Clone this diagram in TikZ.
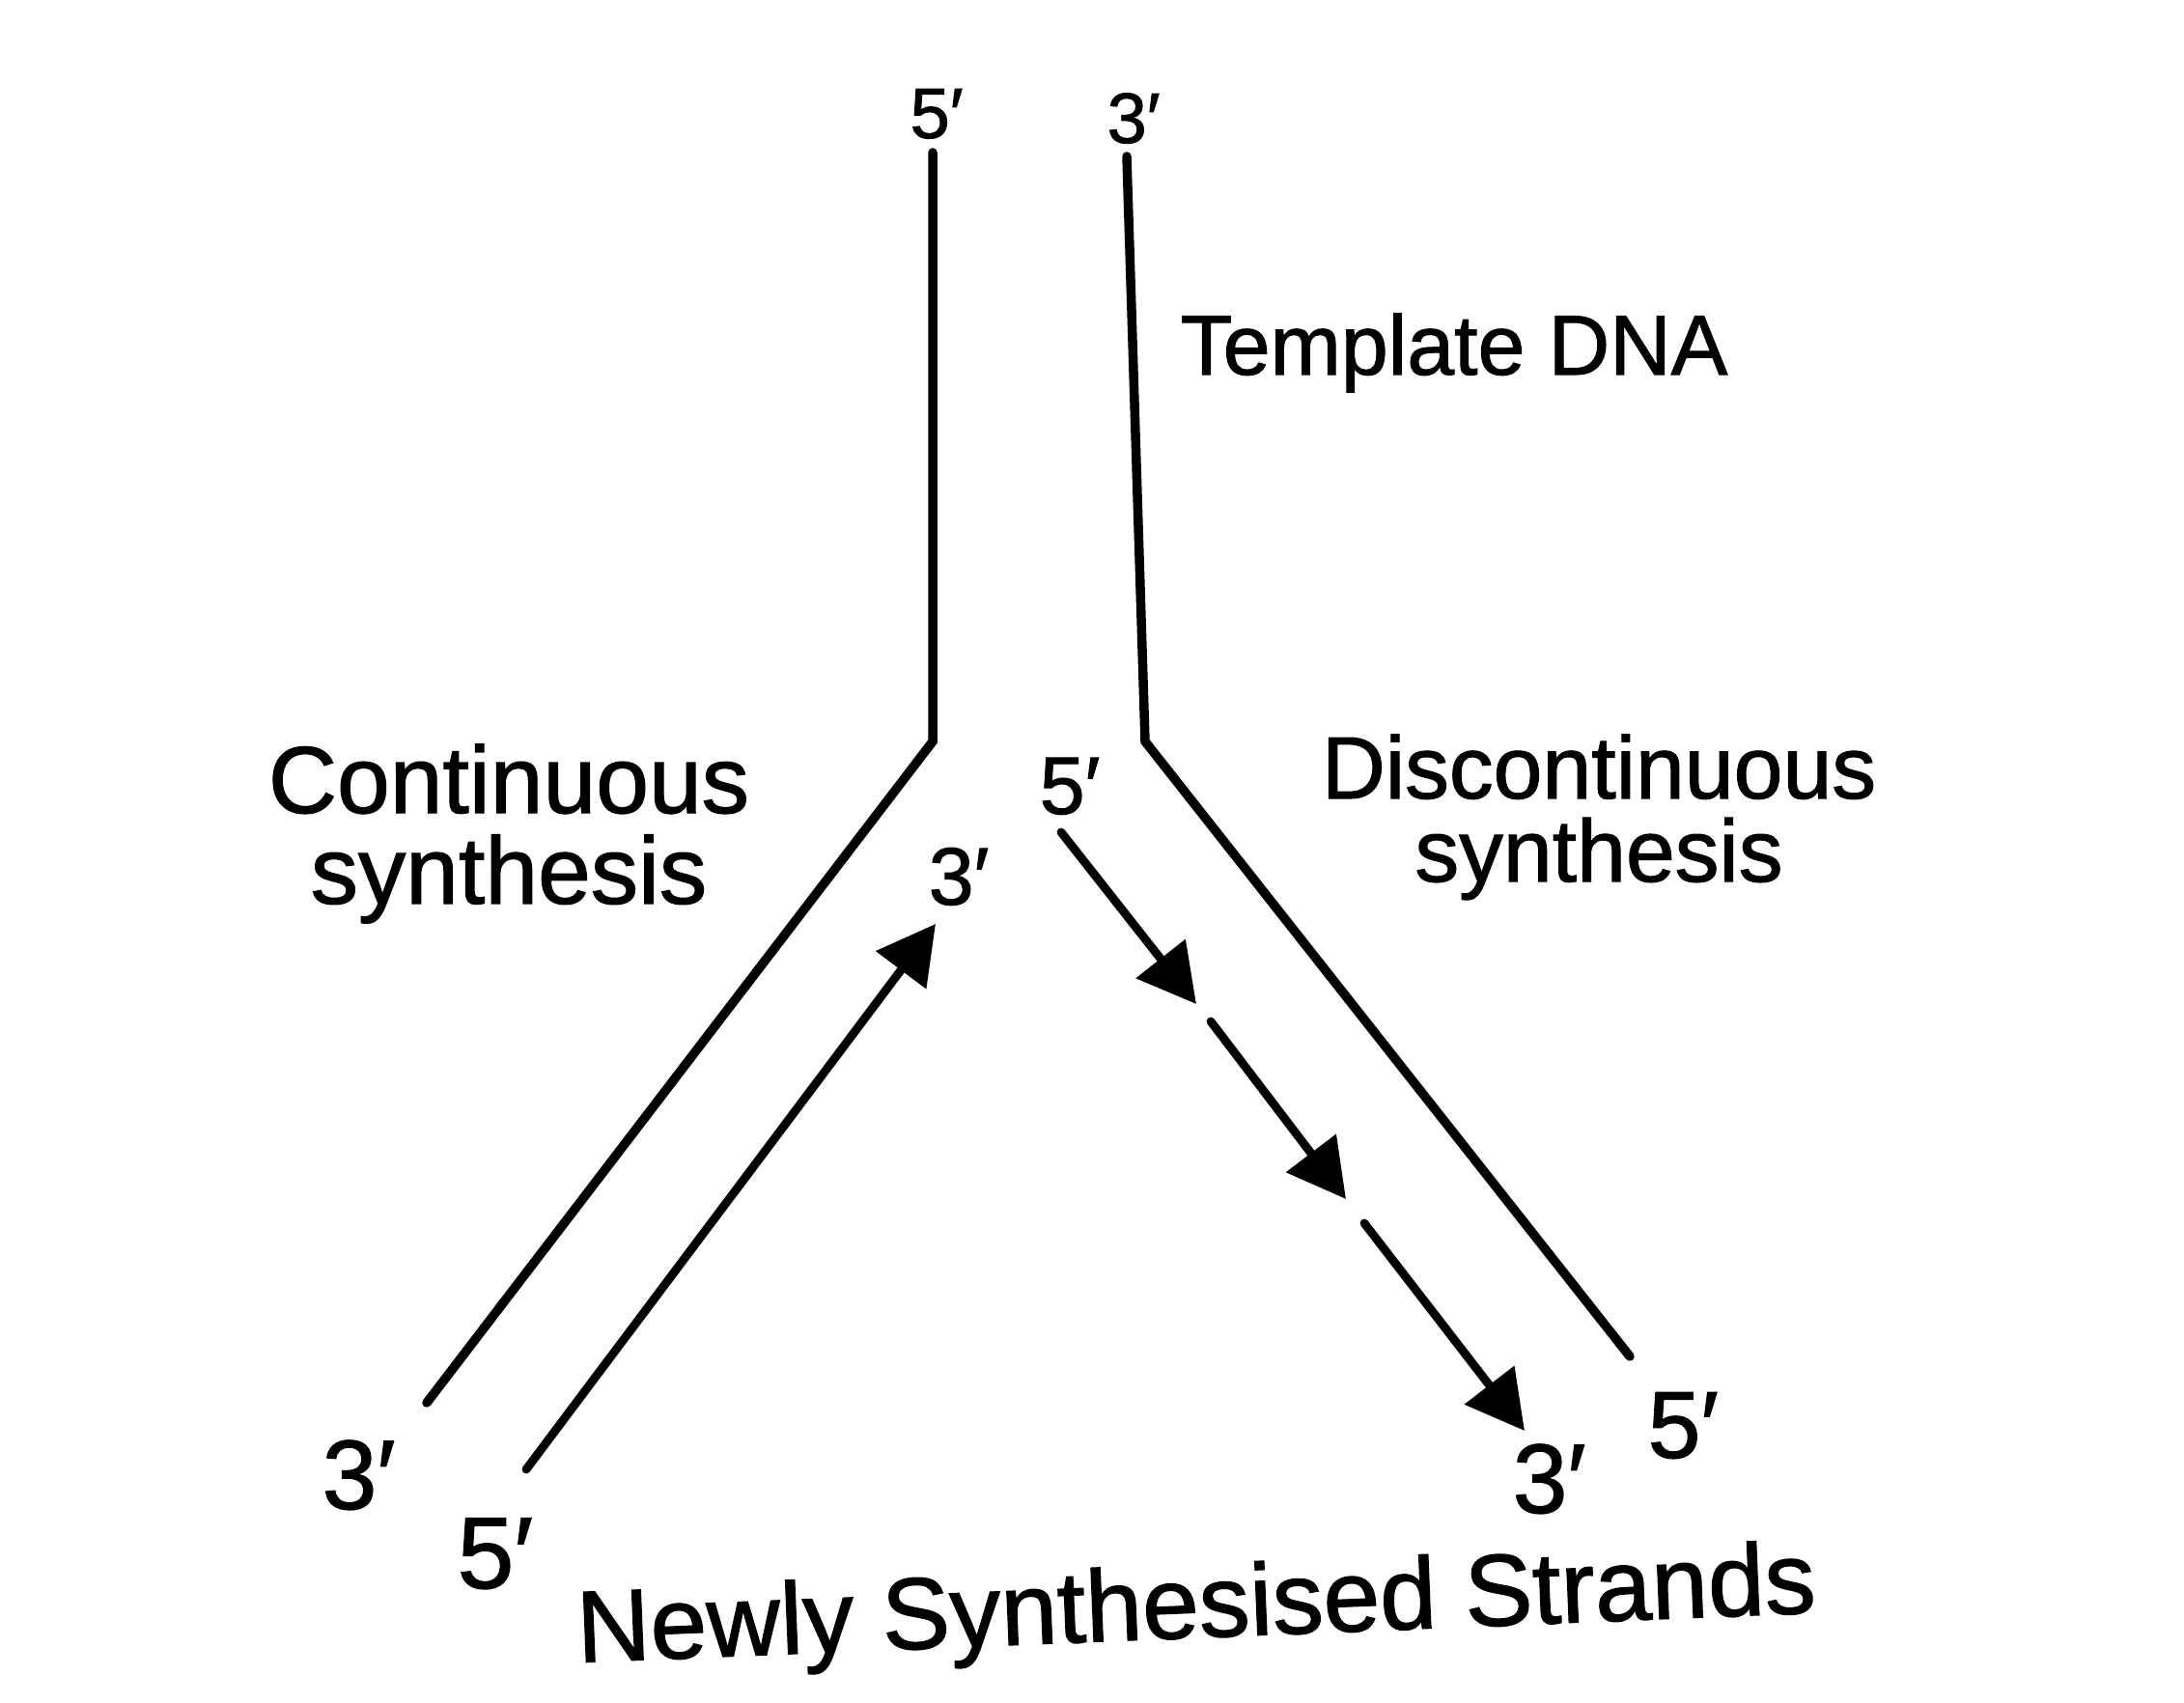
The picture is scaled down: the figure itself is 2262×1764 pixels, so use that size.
\documentclass[tikz,border=0pt]{standalone}
\usepackage{fontspec}
\setmainfont{Liberation Sans}[FakeBold=1.2]
\usetikzlibrary{arrows.meta}

\begin{document}
\begin{tikzpicture}[x=0.01cm, y=-0.01cm,
    strand/.style={line width=2.7pt, line cap=round},
    newstrand/.style={line width=2.5pt, line cap=round, -{Triangle[length=17pt, width=18pt]}},
    endlbl/.style={inner sep=0pt, anchor=base west}]
\useasboundingbox[fill=white] (0,0) rectangle (2262,1764);
% template strands
\coordinate (lt) at (966,158);
\coordinate (lc) at (966,768);
\coordinate (lb) at (442,1453);
\coordinate (rt) at (1167,162);
\coordinate (rc) at (1186,768);
\coordinate (rb) at (1688,1405);
\draw[strand] (lt) -- (lc) -- (lb);
\draw[strand] (rt) -- (rc) -- (rb);
% newly made strands
\coordinate (cs) at (545,1522);
\coordinate (ce) at (969,957);
\draw[newstrand] (cs) -- (ce);
\coordinate (ds1) at (1099,862);
\coordinate (de1) at (1239,1040);
\coordinate (ds2) at (1254,1058);
\coordinate (de2) at (1394,1242);
\coordinate (ds3) at (1413,1267);
\coordinate (de3) at (1579,1482);
\foreach \i in {1,2,3}
    \draw[newstrand] (ds\i) -- (de\i);
% ends
\node[endlbl, font=\fontsize{21}{21}\selectfont] (top5) at (942,143) {5′};
\node[endlbl, font=\fontsize{21}{21}\selectfont] (top3) at (1146,148) {3′};
\node[endlbl, font=\fontsize{24}{24}\selectfont] (mid5) at (1076,843) {5′};
\node[endlbl, font=\fontsize{24}{24}\selectfont] (mid3) at (961,937) {3′};
\node[endlbl, font=\fontsize{29}{29}\selectfont] (bl3) at (333,1563) {3′};
\node[endlbl, font=\fontsize{30}{30}\selectfont] (bl5) at (473,1645) {5′};
\node[endlbl, font=\fontsize{29}{29}\selectfont] (br3) at (1566,1567) {3′};
\node[endlbl, font=\fontsize{28}{28}\selectfont] (br5) at (1706,1510) {5′};
% captions
\node[endlbl, font=\fontsize{25}{25}\selectfont] (tmpl) at (1222,388) {Template DNA};
\node[inner sep=0pt, anchor=north, align=center, font=\fontsize{28}{26.7}\selectfont] (cont) at (527,770) {Continuous\\synthesis};
\node[inner sep=0pt, anchor=north, align=center, font=\fontsize{26}{24.5}\selectfont] (disc) at (1656,760) {Discontinuous\\synthesis};
\node[endlbl, rotate=2.3, font=\fontsize{30}{30}\selectfont] (newly) at (598,1722) {Newly Synthesised Strands};
\end{tikzpicture}
\end{document}
